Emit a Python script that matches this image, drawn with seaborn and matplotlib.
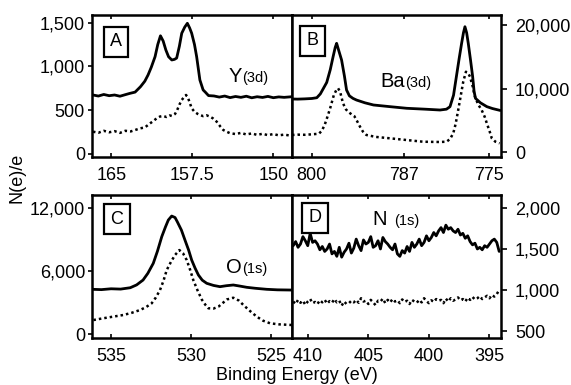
import numpy as np
import pandas as pd
import matplotlib
matplotlib.use("Agg")
import matplotlib.pyplot as plt
from matplotlib.ticker import FuncFormatter
import seaborn as sns

# ---------------- data ----------------
# Panel A : Y(3d)
a_solid_e = [166.7, 166.2, 165.7, 165.2, 164.7, 164.2, 163.7, 163.3, 162.8, 162.3, 161.9, 161.6, 161.3,
             160.95, 160.7, 160.45, 160.2, 159.95, 159.7, 159.4, 159.15, 158.95, 158.7, 158.48, 158.2,
             157.96, 157.75, 157.56, 157.3, 157.1, 156.8, 156.5, 156.3, 156.0, 155.5, 155.0, 154.5, 154.0,
             153.5, 153.0, 152.5, 152.0, 151.5, 151.0, 150.5, 150.0, 149.5, 149.0, 148.3]
a_solid_v = [672, 660, 678, 664, 672, 658, 676, 690, 705, 767, 830, 901, 990,
             1111, 1250, 1350, 1290, 1187, 1110, 1073, 1080, 1095, 1230, 1379, 1450,
             1493, 1440, 1379, 1250, 1111, 844, 730, 705, 665, 661, 648, 660, 642,
             655, 645, 658, 640, 652, 644, 656, 641, 650, 645, 652]
a_dot_e = [166.7, 166.2, 165.7, 165.2, 164.7, 164.2, 163.7, 163.2, 162.7, 162.3, 161.9, 161.4, 161.1,
           160.8, 160.5, 160.2, 159.9, 159.6, 159.4, 159.1, 158.9, 158.7, 158.48, 158.25, 158.08, 157.9,
           157.7, 157.56, 157.3, 157.0, 156.79, 156.5, 156.2, 155.86, 155.6, 155.24, 154.9, 154.63, 154.3,
           154.0, 153.5, 153.0, 152.5, 152.0, 151.5, 151.0, 150.5, 150.0, 149.5, 149.0, 148.3]
a_dot_v = [252, 240, 262, 245, 258, 238, 262, 255, 275, 291, 300, 348, 375,
           405, 425, 432, 420, 438, 432, 455, 500, 560, 615, 650, 672, 640,
           570, 520, 480, 455, 443, 430, 440, 424, 405, 366, 310, 271, 250,
           234, 225, 238, 220, 232, 215, 228, 212, 225, 210, 218, 205]

# Panel B : Ba(3d)
b_solid_e = [802.8, 802.0, 801.0, 800.0, 799.3, 798.8, 798.3, 797.9, 797.4, 797.0, 796.7, 796.5, 796.2,
             795.8, 795.4, 795.1, 794.7, 794.2, 793.7, 792.5, 791.3, 789.0, 786.6, 784.0, 781.9, 781.0,
             780.5, 780.0, 779.6, 779.2, 778.86, 778.6, 778.39, 778.15, 777.92, 777.6, 777.3, 777.1,
             776.9, 776.2, 775.3, 774.5, 773.4]
b_solid_v = [8400, 8380, 8420, 8480, 8600, 9200, 10200, 11000, 13000, 15040, 16500, 17140, 16000,
             14520, 12000, 9810, 8900, 8500, 8240, 7800, 7460, 7200, 6940, 6800, 6670, 6800,
             7190, 9000, 11900, 14800, 17140, 18800, 19750, 18800, 17140, 14500, 11900, 9600,
             8500, 7800, 7200, 6900, 6600]
b_dot_e = [802.8, 802.0, 801.0, 800.0, 799.0, 798.6, 798.2, 797.8, 797.4, 796.9, 796.5, 796.29, 796.0,
           795.6, 795.2, 794.9, 794.4, 794.0, 793.6, 793.2, 792.8, 792.3, 791.0, 789.0, 787.0, 784.3,
           782.0, 781.0, 780.5, 780.04, 779.7, 779.34, 779.0, 778.63, 778.25, 777.9, 777.68, 777.3,
           776.98, 776.5, 776.03, 775.6, 775.3, 774.9, 774.6, 774.1, 773.5]
b_dot_v = [2750, 2800, 2780, 2850, 2950, 3400, 4300, 5600, 7000, 9000, 9900, 10080, 9500,
           7720, 6800, 6400, 6000, 5700, 4900, 4050, 3300, 2750, 2450, 2230, 2000, 1690,
           1650, 1690, 2100, 3010, 4500, 6670, 8800, 11110, 12680, 12400, 11900, 10400,
           8760, 7500, 6670, 5600, 4580, 3300, 2230, 1700, 1440]

# Panel C : O(1s)
c_solid_e = [536.2, 535.6, 535.0, 534.4, 533.8, 533.4, 533.0, 532.7, 532.36, 532.1, 531.83, 531.6, 531.42,
             531.21, 531.0, 530.86, 530.6, 530.38, 530.15, 529.96, 529.75, 529.54, 529.3, 529.02, 528.6,
             528.19, 527.8, 527.36, 527.0, 526.52, 526.0, 525.27, 524.6, 523.7]
c_solid_v = [4280, 4250, 4330, 4300, 4430, 4700, 5160, 5800, 6750, 7900, 9280, 10200, 10860,
             11240, 11100, 10700, 9900, 8960, 8000, 7060, 6300, 5640, 5150, 4850, 4650,
             4530, 4620, 4690, 4600, 4470, 4380, 4280, 4230, 4210]
c_dot_e = [536.1, 535.6, 535.0, 534.23, 533.7, 533.19, 532.8, 532.46, 532.2, 531.94, 531.72, 531.52,
           531.25, 531.0, 530.73, 530.5, 530.27, 530.05, 529.86, 529.6, 529.33, 529.1, 528.92, 528.6,
           528.29, 528.0, 527.77, 527.36, 527.0, 526.73, 526.3, 525.89, 525.5, 525.06, 524.5, 523.7]
c_dot_v = [1360, 1500, 1650, 1840, 2050, 2310, 2600, 2950, 3500, 4210, 5100, 6110,
           6900, 7540, 8010, 7700, 7060, 6100, 5160, 4200, 3310, 2800, 2480, 2450,
           2630, 3000, 3310, 3480, 3200, 2790, 2200, 1680, 1300, 1050, 950, 890]

# Panel D : N(1s)
d_e = [411.2, 411.0, 410.8, 410.6, 410.4, 410.2, 410.0, 409.8, 409.6, 409.4,
       409.2, 409.0, 408.8, 408.6, 408.4, 408.2, 408.0, 407.8, 407.6, 407.4,
       407.2, 407.0, 406.8, 406.6, 406.4, 406.2, 406.0, 405.8, 405.6, 405.4,
       405.2, 405.0, 404.8, 404.6, 404.4, 404.2, 404.0, 403.8, 403.6, 403.4,
       403.2, 403.0, 402.8, 402.6, 402.4, 402.2, 402.0, 401.8, 401.6, 401.4,
       401.2, 401.0, 400.8, 400.6, 400.4, 400.2, 400.0, 399.8, 399.6, 399.4,
       399.2, 399.0, 398.8, 398.6, 398.4, 398.2, 398.0, 397.8, 397.6, 397.4,
       397.2, 397.0, 396.8, 396.6, 396.4, 396.2, 396.0, 395.8, 395.6, 395.4,
       395.2, 395.0, 394.8, 394.6, 394.4, 394.2]
d_solid_v = [1540, 1590, 1520, 1560, 1650, 1600, 1540, 1690, 1580, 1600,
             1560, 1490, 1530, 1470, 1500, 1560, 1440, 1470, 1410, 1520,
             1400, 1460, 1500, 1570, 1450, 1510, 1620, 1540, 1480, 1610,
             1560, 1580, 1650, 1520, 1540, 1600, 1500, 1640, 1590, 1560,
             1520, 1490, 1560, 1440, 1410, 1480, 1450, 1530, 1470, 1580,
             1520, 1560, 1620, 1540, 1580, 1660, 1600, 1640, 1700, 1660,
             1720, 1760, 1700, 1790, 1740, 1760, 1720, 1700, 1740, 1670,
             1690, 1630, 1660, 1590, 1550, 1570, 1500, 1520, 1490, 1540,
             1520, 1560, 1600, 1620, 1580, 1470]
d_dot_v = [860, 830, 880, 845, 870, 820, 860, 890, 840, 855,
           830, 875, 850, 880, 835, 865, 845, 890, 850, 870,
           810, 860, 830, 840, 870, 850, 880, 845, 900, 860,
           870, 830, 880, 850, 815, 870, 860, 895, 840, 880,
           850, 890, 860, 875, 840, 885, 855, 870, 830, 880,
           860, 845, 880, 850, 900, 865, 840, 875, 855, 890,
           870, 880, 840, 895, 860, 900, 870, 885, 910, 875,
           890, 860, 905, 880, 915, 885, 900, 925, 890, 910,
           930, 900, 940, 920, 950, 1000]

a_xticks = [165, 157.5, 150]
b_xticks = [800, 787, 775]
c_xticks = [535, 530, 525]
d_xticks = [410, 405, 400, 395]
a_yticks = [0, 500, 1000, 1500]
b_yticks = [0, 10000, 20000]
c_yticks = [0, 6000, 12000]
d_yticks = [500, 1000, 1500, 2000]

# ---------------- style ----------------
sns.set_theme(style="ticks")
plt.rcParams['font.family'] = ['Liberation Sans', 'DejaVu Sans']

W, H = 571, 385
fig = plt.figure(figsize=(W / 100, H / 100), dpi=100)
fig.patch.set_facecolor("white")

def rect(x0, y0, x1, y1):
    return [x0 / W, 1 - y1 / H, (x1 - x0) / W, (y1 - y0) / H]

axA = fig.add_axes(rect(92, 15, 292, 157))
axB = fig.add_axes(rect(292, 15, 501, 157))
axC = fig.add_axes(rect(92, 195, 292, 338))
axD = fig.add_axes(rect(292, 195, 501, 338))

comma = FuncFormatter(lambda v, p: "{:,.0f}".format(v))
plain = FuncFormatter(lambda v, p: ("{:g}".format(v)))

def draw(ax, se, sv, de, dv, xlim, ylim, xt, yt, right):
    sns.lineplot(x=se, y=sv, ax=ax, color="black", lw=2.0, sort=False, estimator=None)
    sns.lineplot(x=de, y=dv, ax=ax, color="black", lw=1.8, sort=False, estimator=None,
                 linestyle=(0, (1, 1.2)))
    ax.set_xlim(*xlim)
    ax.set_ylim(*ylim)
    ax.set_xticks(xt)
    ax.set_yticks(yt)
    ax.xaxis.set_major_formatter(plain)
    ax.yaxis.set_major_formatter(comma)
    ax.set_xlabel("")
    ax.set_ylabel("")
    ax.set_facecolor("white")
    for s in ax.spines.values():
        s.set_visible(True)
        s.set_linewidth(1.8)
        s.set_color("black")
    ax.tick_params(axis="x", direction="in", length=3, width=1.2, pad=7,
                   labelsize=13, colors="black", top=True, bottom=True)
    if right:
        ax.yaxis.tick_right()
        ax.tick_params(axis="y", direction="out", length=4, width=1.2, pad=6,
                       labelsize=13, colors="black", left=False, right=True)
    else:
        ax.tick_params(axis="y", direction="out", length=3, width=1.2, pad=2,
                       labelsize=13, colors="black", left=True, right=False)

draw(axA, a_solid_e, a_solid_v, a_dot_e, a_dot_v, (166.79, 148.27), (-38, 1588),
     a_xticks, a_yticks, False)
draw(axB, b_solid_e, b_solid_v, b_dot_e, b_dot_v, (802.8, 773.3), (-708, 21590),
     b_xticks, b_yticks, True)
draw(axC, c_solid_e, c_solid_v, c_dot_e, c_dot_v, (536.19, 523.69), (-346, 13240),
     c_xticks, c_yticks, False)
draw(axD, d_e, d_solid_v, d_e, d_dot_v, (411.3, 394.05), (416, 2157),
     d_xticks, d_yticks, True)

def box(ax, x, y, s):
    ax.text(x, y, s, transform=ax.transAxes, ha="center", va="center", fontsize=13,
            color="black",
            bbox=dict(boxstyle="square,pad=0.35", fc="white", ec="black", lw=1.6))

box(axA, 0.12, 0.81, "A")
box(axB, 0.098, 0.817, "B")
box(axC, 0.125, 0.83, "C")
box(axD, 0.11, 0.84, "D")

def elem(ax, x, y, big, small, gap=0.0):
    ax.text(x, y, big, transform=ax.transAxes, ha="right", va="baseline", fontsize=14.5,
            color="black")
    ax.text(x + gap, y, small, transform=ax.transAxes, ha="left", va="baseline", fontsize=10.5,
            color="black")

elem(axA, 0.75, 0.528, "Y", "(3d)")
elem(axB, 0.54, 0.49, "Ba", "(3d)")
elem(axC, 0.75, 0.455, "O", "(1s)")
elem(axD, 0.455, 0.79, "N", "(1s)", gap=0.035)

fig.text(17 / W, 1 - 178 / H, "N(e)/e", rotation=90, ha="center", va="center",
         fontsize=13, color="black")
fig.text(297 / W, 1 - 376 / H, "Binding Energy (eV)", ha="center", va="center",
         fontsize=13, color="black")

fig.savefig("out.png", dpi=100, facecolor="white")
